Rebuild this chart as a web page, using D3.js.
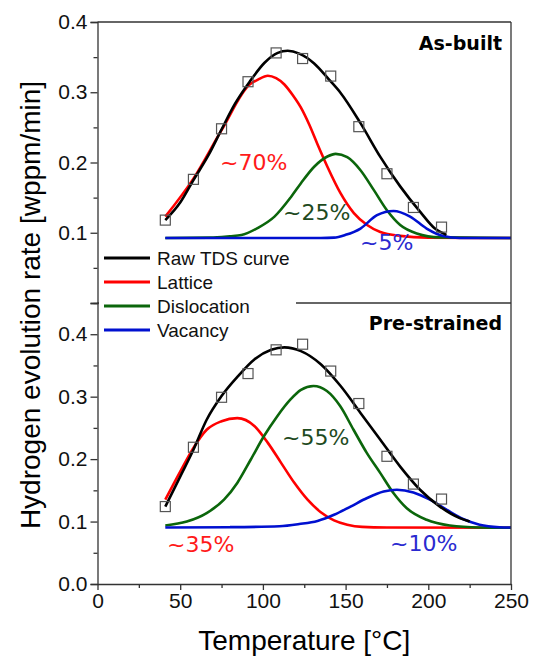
<!DOCTYPE html>
<html>
<head>
<meta charset="utf-8">
<script src="https://cdn.jsdelivr.net/npm/d3@7"></script>
<style>
  html, body { margin: 0; padding: 0; background: #fff; }
  svg { display: block; }
</style>
</head>
<body>
<div id="chart"></div>
<script>
// Temperature ticks
const xTicks = [0, 50, 100, 150, 200, 250];
const yTicksTop = [0.1, 0.2, 0.3, 0.4];
const yTicksBot = [0.0, 0.1, 0.2, 0.3, 0.4];

// As-built panel: measured points (squares) and fitted curves, [T, rate]
const asBuiltT = [41, 58, 75, 91, 108, 124, 141, 158, 175, 191, 208];
const asBuiltV = [0.118, 0.176, 0.248, 0.315, 0.356, 0.348, 0.323, 0.251, 0.184, 0.136, 0.108];
const asBuiltRaw = [[41, 0.118], [50, 0.143], [58, 0.175], [67, 0.21], [75, 0.247], [83, 0.283], [92, 0.315],
  [101, 0.342], [109, 0.356], [115, 0.359], [122, 0.355], [131, 0.341], [140, 0.318], [147, 0.299],
  [159, 0.256], [171, 0.208], [183, 0.166], [195, 0.130], [204, 0.106], [211, 0.097]];
const asBuiltLattice = [[41, 0.123], [58, 0.177], [75, 0.246], [92, 0.311], [97, 0.318], [103, 0.3235],
  [108, 0.320], [113, 0.311], [118, 0.296], [123, 0.278], [128, 0.254], [133, 0.226], [139, 0.194],
  [147, 0.156], [155, 0.128], [163, 0.111], [171, 0.101], [183, 0.0955], [200, 0.093], [250, 0.0925]];
const asBuiltDislocation = [[41, 0.0925], [68, 0.093], [80, 0.095], [87, 0.0967], [97, 0.107], [107, 0.123],
  [117, 0.151], [123, 0.1705], [131, 0.194], [139, 0.2085], [144, 0.2123], [151, 0.2075], [159, 0.189],
  [167, 0.161], [175, 0.132], [183, 0.111], [193, 0.099], [207, 0.0934], [250, 0.0925]];
const asBuiltVacancy = [[41, 0.0925], [135, 0.0925], [143, 0.093], [150, 0.097], [159, 0.106], [169, 0.125],
  [179, 0.131], [189, 0.123], [199, 0.106], [209, 0.0953], [219, 0.0925], [250, 0.0925]];

// Pre-strained panel
const preT = [41, 58, 75, 91, 108, 124, 141, 158, 175, 191, 208];
const preV = [0.124, 0.219, 0.299, 0.337, 0.375, 0.384, 0.341, 0.289, 0.2045, 0.160, 0.136];
const preRaw = [[41, 0.124], [50, 0.172], [58, 0.215], [66, 0.263], [75, 0.301], [85, 0.333], [95, 0.360],
  [105, 0.375], [113, 0.379], [123, 0.373], [135, 0.352], [147, 0.317], [159, 0.274], [171, 0.231],
  [183, 0.188], [195, 0.151], [207, 0.124], [219, 0.1055], [225, 0.100]];
const preLattice = [[41, 0.135], [50, 0.180], [58, 0.218], [66, 0.247], [75, 0.2607], [84.5, 0.2656],
  [95, 0.2527], [103, 0.226], [111, 0.194], [119, 0.162], [127, 0.135], [135, 0.115], [143, 0.102],
  [151, 0.095], [160, 0.0915], [175, 0.0905], [250, 0.09]];
const preDislocation = [[41, 0.0937], [54, 0.100], [66, 0.1136], [76.5, 0.135], [84.5, 0.1618], [92.6, 0.199],
  [100.6, 0.2366], [108.7, 0.2688], [116.7, 0.2956], [123, 0.311], [130.6, 0.317], [138.7, 0.309],
  [146.7, 0.285], [154.8, 0.247], [162.8, 0.21], [170.9, 0.178], [178.9, 0.1457], [187, 0.1213],
  [199, 0.1028], [213, 0.0937], [231, 0.0905], [250, 0.09]];
const preVacancy = [[41, 0.0905], [80, 0.091], [110, 0.0925], [122, 0.096], [133, 0.101], [143, 0.1108],
  [153, 0.124], [163, 0.1377], [173, 0.148], [181, 0.151], [191, 0.1467], [201, 0.135], [211, 0.119],
  [221, 0.104], [231, 0.095], [243, 0.091], [250, 0.0905]];

const legendLabels = ['Raw TDS curve', 'Lattice', 'Dislocation', 'Vacancy'];
const colors = { raw: '#000000', lattice: '#ff0000', dislocation: '#0b660b', vacancy: '#0010d0' };

const width = 537, height = 658;
const plotL = 97.5, plotR = 511, plotT = 22, plotM = 303, plotB = 584;

const svg = d3.select('#chart').append('svg')
  .attr('width', width).attr('height', height)
  .style('font-family', '"Liberation Sans", Arial, sans-serif');

svg.append('rect').attr('width', width).attr('height', height).attr('fill', '#fff');

const x = d3.scaleLinear().domain([0, 250]).range([plotL, plotR]);
const yTop = d3.scaleLinear().domain([0, 0.4]).range([plotM, plotT]);
const yBot = d3.scaleLinear().domain([0, 0.45]).range([plotB, plotM]);

function drawPanel(y, series, pts) {
  const line = d3.line().x(d => x(d[0])).y(d => y(d[1])).curve(d3.curveMonotoneX);
  series.forEach(s => {
    svg.append('path').datum(s.data)
      .attr('d', line).attr('fill', 'none')
      .attr('stroke', s.color).attr('stroke-width', 2.6)
      .attr('stroke-linejoin', 'round');
  });
  svg.append('g').selectAll('rect')
    .data(pts.t.map((t, i) => [t, pts.v[i]]))
    .join('rect')
    .attr('x', d => x(d[0]) - 5).attr('y', d => y(d[1]) - 5)
    .attr('width', 10).attr('height', 10)
    .attr('fill', 'none').attr('stroke', '#555').attr('stroke-width', 1.2);
}

drawPanel(yTop, [
  { data: asBuiltLattice, color: colors.lattice },
  { data: asBuiltDislocation, color: colors.dislocation },
  { data: asBuiltVacancy, color: colors.vacancy },
  { data: asBuiltRaw, color: colors.raw },
], { t: asBuiltT, v: asBuiltV });

drawPanel(yBot, [
  { data: preLattice, color: colors.lattice },
  { data: preDislocation, color: colors.dislocation },
  { data: preVacancy, color: colors.vacancy },
  { data: preRaw, color: colors.raw },
], { t: preT, v: preV });

// Frame and divider
const axisColor = '#333';
svg.append('line').attr('x1', plotL).attr('x2', plotR).attr('y1', plotM).attr('y2', plotM)
  .attr('stroke', axisColor).attr('stroke-width', 1.3);
svg.append('line').attr('x1', plotL).attr('x2', plotR).attr('y1', plotT).attr('y2', plotT)
  .attr('stroke', axisColor).attr('stroke-width', 1.3);
svg.append('line').attr('x1', plotR).attr('x2', plotR).attr('y1', plotT).attr('y2', plotB)
  .attr('stroke', axisColor).attr('stroke-width', 1.3);

function styleAxis(g) {
  g.selectAll('path, line').attr('stroke', axisColor).attr('stroke-width', 1.3);
  g.selectAll('text').attr('fill', '#111').style('font-size', '21px')
    .style('font-family', '"Liberation Sans", Arial, sans-serif');
}

// Y axes (minor + major)
[[yTop, yTicksTop, [0.05, 0.15, 0.25, 0.35]], [yBot, yTicksBot, [0.05, 0.15, 0.25, 0.35, 0.45]]]
  .forEach(([y, major, minor]) => {
    svg.append('g').attr('transform', `translate(${plotL},0)`)
      .call(d3.axisLeft(y).tickValues(minor).tickSize(4).tickFormat(''))
      .call(g => g.select('.domain').remove()).call(styleAxis);
    svg.append('g').attr('transform', `translate(${plotL},0)`)
      .call(d3.axisLeft(y).tickValues(major).tickSize(7).tickPadding(3).tickFormat(d3.format('.1f')))
      .call(styleAxis);
  });

// X axis
svg.append('g').attr('transform', `translate(0,${plotB})`)
  .call(d3.axisBottom(x).tickValues([25, 75, 125, 175, 225]).tickSize(4).tickFormat(''))
  .call(g => g.select('.domain').remove()).call(styleAxis);
svg.append('g').attr('transform', `translate(0,${plotB})`)
  .call(d3.axisBottom(x).tickValues(xTicks).tickSize(6).tickPadding(3).tickSizeOuter(0))
  .call(styleAxis);

// Axis titles
svg.append('text').attr('x', (plotL + plotR) / 2).attr('y', 650)
  .attr('text-anchor', 'middle').style('font-size', '28px').text('Temperature [°C]');
svg.append('text').attr('transform', `translate(40,${(plotT + plotB) / 2 + 2}) rotate(-90)`)
  .attr('text-anchor', 'middle').style('font-size', '28px').text('Hydrogen evolution rate [wppm/min]');

// Panel labels
const bold = { 'font-family': '"DejaVu Sans", Verdana, sans-serif', 'font-weight': 'bold', 'font-size': '19px' };
[['As-built', 50], ['Pre-strained', 330]].forEach(([t, yy]) => {
  const el = svg.append('text').attr('x', 502).attr('y', yy).attr('text-anchor', 'end').text(t);
  Object.entries(bold).forEach(([k, v]) => el.style(k, v));
});

// Percent annotations
const pct = [
  ['~70%', 220, 170, '#ff1a1a'], ['~25%', 283, 220, '#1e4a1e'], ['~5%', 360, 250, '#2a2ad0'],
  ['~35%', 167, 552, '#ff1a1a'], ['~55%', 282, 445, '#1e4a1e'], ['~10%', 390, 551, '#2a2ad0'],
];
svg.append('g').selectAll('text').data(pct).join('text')
  .attr('x', d => d[1]).attr('y', d => d[2]).attr('fill', d => d[3])
  .style('font-family', '"DejaVu Sans", Verdana, sans-serif').style('font-size', '22px')
  .text(d => d[0]);

// Legend
const legend = svg.append('g');
legend.append('rect').attr('x', 99).attr('y', 245).attr('width', 197).attr('height', 96).attr('fill', '#fff');
const legendColors = [colors.raw, colors.lattice, colors.dislocation, colors.vacancy];
legendLabels.forEach((label, i) => {
  const yy = 258 + i * 24;
  legend.append('line').attr('x1', 104).attr('x2', 150).attr('y1', yy).attr('y2', yy)
    .attr('stroke', legendColors[i]).attr('stroke-width', 3);
  legend.append('text').attr('x', 157).attr('y', yy).attr('dy', '0.35em')
    .style('font-size', '19px').attr('fill', '#111').text(label);
});
</script>
</body>
</html>
